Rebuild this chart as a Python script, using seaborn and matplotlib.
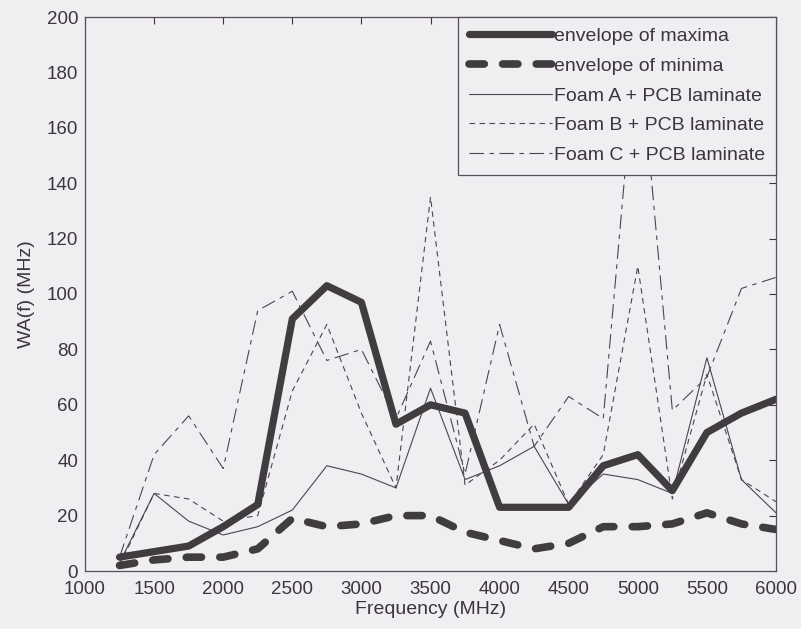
import matplotlib
matplotlib.use("Agg")
import matplotlib.pyplot as plt
import pandas as pd
import seaborn as sns

# Frequency grid (MHz)
freq = [1250, 1500, 1750, 2000, 2250, 2500, 2750, 3000, 3250, 3500,
        3750, 4000, 4250, 4500, 4750, 5000, 5250, 5500, 5750, 6000]

# Envelopes of the weighted bandwidth WA(f)
env_max = [5, 7, 9, 16, 24, 91, 103, 97, 53, 60,
           57, 23, 23, 23, 38, 42, 29, 50, 57, 62]
env_min = [2, 4, 5, 5, 8, 19, 16, 17, 20, 20,
           14, 11, 8, 10, 16, 16, 17, 21, 17, 15]

# Individual material stacks
foam_a = [3, 28, 18, 13, 16, 22, 38, 35, 30, 66,
          33, 38, 45, 24, 35, 33, 28, 77, 33, 21]
foam_b = [2, 28, 26, 18, 20, 65, 89, 57, 30, 135,
          31, 40, 53, 24, 42, 110, 26, 71, 33, 25]
foam_c = [5, 42, 56, 37, 94, 101, 76, 80, 55, 83,
          35, 89, 45, 63, 55, 196, 58, 70, 102, 106]

labels = ["envelope of maxima", "envelope of minima",
          "Foam A + PCB laminate", "Foam B + PCB laminate",
          "Foam C + PCB laminate"]

BG = "#efeff1"
INK = "#3d343f"
THICK = "#403c40"
THIN = "#4e4450"

sns.set_theme(style="white")
plt.rcParams["font.family"] = ["Liberation Sans", "DejaVu Sans"]
plt.rcParams["text.color"] = INK
plt.rcParams["axes.labelcolor"] = INK
plt.rcParams["xtick.color"] = INK
plt.rcParams["ytick.color"] = INK

fig = plt.figure(figsize=(8.01, 6.29), dpi=100, facecolor=BG)
ax = fig.add_axes([85 / 801, 58 / 629, 691 / 801, 554 / 629], facecolor=BG)

df = pd.DataFrame({"freq": freq, "max": env_max, "min": env_min,
                   "A": foam_a, "B": foam_b, "C": foam_c})

handles = {}

def draw(col, **kw):
    sns.lineplot(data=df, x="freq", y=col, ax=ax, errorbar=None,
                 sort=False, legend=False, **kw)
    handles[col] = ax.lines[-1]

# thin curves first, envelopes on top
draw("A", color=THIN, linewidth=0.8, linestyle="-")
draw("B", color=THIN, linewidth=0.8, linestyle=(0, (5, 4)))
draw("C", color=THIN, linewidth=0.8, linestyle=(0, (13, 5, 4, 5)))
draw("max", color=THICK, linewidth=5.2, linestyle="-",
     solid_capstyle="round", solid_joinstyle="round")
draw("min", color=THICK, linewidth=5.5, linestyle=(0, (2.0, 2.4)),
     dash_capstyle="round", dash_joinstyle="round")

ax.set_xlim(1000, 6000)
ax.set_ylim(0, 200)
ax.set_xticks(range(1000, 6001, 500))
ax.set_yticks(range(0, 201, 20))
ax.tick_params(direction="in", length=5, width=0.8, top=True, right=True,
               labelsize=13.5)
ax.tick_params(axis="x", pad=7)
ax.tick_params(axis="y", pad=5)
for s in ax.spines.values():
    s.set_color("#5a4e5c")
    s.set_linewidth(0.9)

ax.set_xlabel("Frequency (MHz)", fontsize=14, labelpad=2)
ax.set_ylabel("WA(f) (MHz)", fontsize=14, labelpad=8)

leg = ax.legend([handles[k] for k in ["max", "min", "A", "B", "C"]], labels,
                loc="upper right", borderaxespad=0, fontsize=14,
                handlelength=4.3, handletextpad=0.1, labelspacing=0.62,
                borderpad=0.55, frameon=True, fancybox=False)
leg.get_frame().set_facecolor(BG)
leg.get_frame().set_edgecolor("#5a4e5c")
leg.get_frame().set_alpha(1)
leg.get_frame().set_linewidth(0.9)

fig.savefig("out.png", dpi=100, facecolor=BG)
